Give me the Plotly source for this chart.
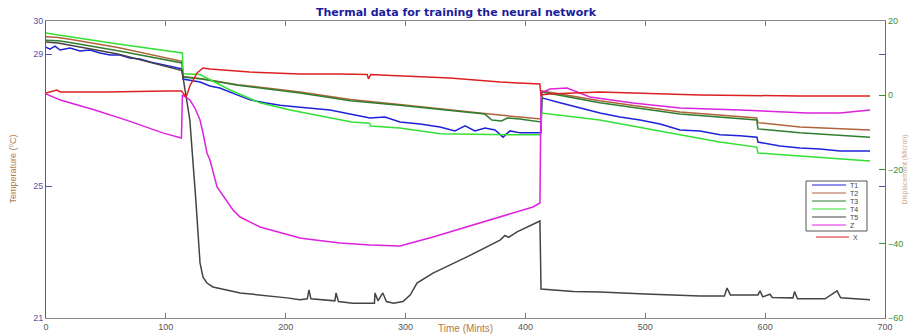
import plotly.graph_objects as go

# ---------------- data ----------------
t1_time = [0, 3.3, 7.5, 11.7, 20, 28.4, 36.7, 45, 53.4, 61.7, 70, 78.4, 86.8, 95.1, 103.5, 111.8, 113.5,
           114.3, 120, 128.5, 136.8, 145, 159.4, 170.2, 182.7, 195.2, 212, 237, 253.6, 270.3, 282.8, 295.3,
           312, 328.7, 341.2, 349.6, 357.9, 366.3, 374.6, 381.3, 387.1, 395.5, 413,
           413.8, 428.8, 445.5, 462.2, 478.9, 495.6, 512.3, 529, 545.6, 562.3, 579, 593.2,
           594, 612.4, 629, 645.8, 662.5, 687.5]
t1_temp = [29.21, 29.15, 29.24, 29.12, 29.18, 29.09, 29.12, 29.03, 28.97, 28.97, 28.88, 28.85, 28.76, 28.70, 28.64, 28.58, 28.55,
           28.24, 28.21, 28.15, 28.03, 27.97, 27.76, 27.61, 27.52, 27.45, 27.39, 27.30, 27.18, 27.06, 27.09, 26.94,
           26.88, 26.79, 26.67, 26.82, 26.67, 26.76, 26.70, 26.48, 26.67, 26.61, 26.61,
           27.67, 27.52, 27.36, 27.21, 27.09, 27.00, 26.88, 26.70, 26.67, 26.55, 26.52, 26.48,
           26.33, 26.21, 26.15, 26.12, 26.06, 26.06]

t2_time = [0, 10, 20, 60, 113.5, 114.3, 130, 160, 212, 254, 295, 337, 370, 395, 413,
           413.8, 462, 529, 593, 594, 629, 687.5]
t2_temp = [29.52, 29.50, 29.45, 29.20, 28.78, 28.32, 28.25, 28.07, 27.85, 27.62, 27.47, 27.30, 27.18, 27.09, 27.03,
           27.88, 27.58, 27.24, 27.06, 26.92, 26.79, 26.70]

t3_time = [0, 10, 20, 60, 113.5, 114.3, 130, 160, 212, 254, 295, 337, 366, 372, 380, 385, 395, 413,
           413.8, 462, 529, 593, 594, 629, 687.5]
t3_temp = [29.42, 29.40, 29.35, 29.10, 28.73, 28.30, 28.24, 28.05, 27.82, 27.58, 27.45, 27.30, 27.18, 27.00, 26.97, 27.06, 27.03, 26.94,
           27.85, 27.52, 27.18, 27.00, 26.73, 26.61, 26.48]

t4_time = [0, 9, 60, 113.8, 114.3, 128.5, 153.5, 178.5, 203.6, 230, 255, 270, 271, 295, 329, 370, 412.5,
           413.5, 440, 462, 529, 562, 593, 594, 629, 687.5]
t4_temp = [29.64, 29.58, 29.30, 29.03, 28.40, 28.38, 27.91, 27.52, 27.30, 27.12, 26.94, 26.90, 26.82, 26.76, 26.58, 26.56, 26.55,
           27.21, 27.09, 27.00, 26.55, 26.33, 26.18, 26.00, 25.91, 25.76]

t5_time = [0, 10, 60, 113.5, 114.3, 120, 125, 128.5, 131, 134.3, 139.3, 142.7, 162, 201, 212, 218, 219.4, 221,
           241, 242, 244, 256, 274, 274.5, 277, 281, 284, 290, 297.9, 304, 309.5, 322.9, 351.2, 378.8, 383, 386, 393, 412.1,
           413, 440, 462, 500, 545.6, 566, 568.2, 571, 594, 595.7, 598, 604, 606, 623.2, 624.5, 627, 650, 660, 663, 687.5]
t5_temp = [29.36, 29.33, 29.00, 28.50, 28.30, 27.00, 24.58, 22.67, 22.24, 22.06, 21.94, 21.91, 21.76, 21.61, 21.55, 21.58, 21.85, 21.58,
           21.52, 21.76, 21.50, 21.45, 21.45, 21.76, 21.52, 21.76, 21.50, 21.45, 21.50, 21.70, 22.06, 22.36, 22.85, 23.36, 23.50, 23.44, 23.61, 23.94,
           21.88, 21.80, 21.79, 21.73, 21.67, 21.67, 21.91, 21.70, 21.70, 21.82, 21.64, 21.72, 21.62, 21.61, 21.80, 21.58, 21.58, 21.82, 21.61, 21.55]

z_time = [0, 12, 40, 67, 98, 113, 113.8, 120.1, 124.3, 128.5, 131, 134.3, 136.8, 142.7, 156, 161.9, 178.5, 184.4,
          212, 217.8, 245.3, 270.3, 295.3, 322.9, 351.2, 378.8, 406.3, 412.1,
          413, 420.5, 434.7, 453.9, 489.7, 529, 579, 634.9, 662.5, 687.5]
z_disp = [0.34, -1.3, -3.9, -6.7, -10.2, -11.5, 0.07, -1.28, -3.43, -6.67, -10.17, -15.56, -17.44, -24.71, -30.91, -32.8, -35.49, -36.03,
          -38.45, -38.72, -39.8, -40.34, -40.61, -38.18, -35.49, -32.8, -30.1, -29.02,
          0.61, 1.68, 1.95, -0.47, -2.09, -3.43, -3.97, -4.78, -4.78, -3.97]

x_time = [0, 9, 12, 50, 100, 113, 115, 117, 120, 126, 131, 136.8, 170, 212, 245, 258, 268, 269, 271, 278.7, 337, 378.8, 412,
          413, 420, 462, 545.6, 629, 687.5]
x_disp = [0.61, 1.41, 0.88, 0.88, 1.14, 1.14, 0.3, -0.47, 2.5, 5.99, 7.34, 7.07, 6.26, 5.72, 5.72, 5.70, 5.60, 4.40, 5.60, 5.45, 4.65, 3.57, 3.03,
          0.07, 0.34, 0.88, 0.07, -0.20, -0.20]

names = ["T1", "T2", "T3", "T4", "T5", "Z", "X"]
colors = ["#1f22d8", "#b0643c", "#2f7f2f", "#33e033", "#444444", "#dd22dd", "#dd2020"]

temp_series = [(t1_time, t1_temp), (t2_time, t2_temp), (t3_time, t3_temp), (t4_time, t4_temp), (t5_time, t5_temp)]
disp_series = [(z_time, z_disp), (x_time, x_disp)]

# ---------------- figure ----------------
W, H = 912, 334
L, R, T, B = 46, 27, 21, 16
PW, PH = W - L - R, H - T - B


def px_x(px):
    return (px - L) / PW


def px_y(py):
    return 1 - (py - T) / PH


fig = go.Figure()
for i, (tx, ty) in enumerate(temp_series):
    fig.add_trace(go.Scatter(x=tx, y=ty, mode="lines", name=names[i],
                             line=dict(color=colors[i], width=1.5), showlegend=False))
for j, (tx, ty) in enumerate(disp_series):
    k = 5 + j
    fig.add_trace(go.Scatter(x=tx, y=ty, mode="lines", name=names[k], yaxis="y2",
                             line=dict(color=colors[k], width=1.5), showlegend=False))

font_family = "Liberation Sans, Arial, sans-serif"
left_col = "#5454a8"
right_col = "#3a8f3a"
brown = "#b07a4e"

fig.update_layout(
    width=W, height=H,
    margin=dict(l=L, r=R, t=T, b=B, autoexpand=False),
    paper_bgcolor="white", plot_bgcolor="white",
    font=dict(family=font_family, size=9, color="#555555"),
    title=dict(text="<b>Thermal data for training the neural network</b>",
               x=0.5, xref="container", xanchor="center",
               y=1 - 12 / H, yref="container", yanchor="middle",
               font=dict(size=11, color="#1c1c9c", family="DejaVu Sans, sans-serif")),
    xaxis=dict(range=[0, 700], tickvals=[0, 100, 200, 300, 400, 500, 600, 700], automargin=False,
               ticks="inside", ticklen=5, tickcolor="#777777", showline=True,
               linecolor="#8a8a8a", linewidth=1, mirror="ticks", showgrid=False, zeroline=False,
               tickfont=dict(size=9, color="#555555")),
    yaxis=dict(range=[21, 30], tickvals=[21, 25, 29, 30], ticks="inside", ticklen=6, automargin=False,
               tickcolor=left_col, showline=True, linecolor=left_col, linewidth=1, mirror="ticks",
               showgrid=False, zeroline=False, tickfont=dict(size=9, color=left_col)),
    yaxis2=dict(range=[-60, 20], tickvals=[-60, -40, -20, 0, 20], overlaying="y", side="right",
                automargin=False,
                ticks="inside", ticklen=6, tickcolor=right_col, showline=True, linecolor=right_col,
                linewidth=1.2, showgrid=False, zeroline=False, tickfont=dict(size=9, color=right_col)),
)

# axis titles
fig.add_annotation(text="Time (Mints)", xref="paper", yref="paper", x=0.5, y=px_y(328),
                   showarrow=False, xanchor="center", yanchor="middle",
                   font=dict(size=10, color=brown, family=font_family))
fig.add_annotation(text="Temperature (<sup>o</sup>C)", xref="paper", yref="paper", x=px_x(12), y=0.5,
                   showarrow=False, textangle=-90, xanchor="center", yanchor="middle",
                   font=dict(size=9, color=brown, family=font_family))
fig.add_annotation(text="Displacement (Micron)", xref="paper", yref="paper", x=px_x(904), y=0.5,
                   showarrow=False, textangle=-90, xanchor="center", yanchor="middle",
                   font=dict(size=7, color="#c8a888", family=font_family))

# legend (drawn compactly, like the reference)
fig.add_shape(type="rect", xref="paper", yref="paper",
              x0=px_x(806), x1=px_x(867), y0=px_y(231), y1=px_y(181),
              line=dict(color="#555555", width=1), fillcolor="white", layer="above")
legend_rows = [185, 193, 201, 209, 217, 225]
for i, py in enumerate(legend_rows):
    fig.add_shape(type="line", xref="paper", yref="paper",
                  x0=px_x(812), x1=px_x(846), y0=px_y(py), y1=px_y(py),
                  line=dict(color=colors[i], width=1.2), layer="above")
    fig.add_annotation(text=names[i], xref="paper", yref="paper", x=px_x(849), y=px_y(py),
                       showarrow=False, xanchor="left", yanchor="middle", borderpad=0,
                       font=dict(size=7, color="#444444", family=font_family))
fig.add_shape(type="line", xref="paper", yref="paper",
              x0=px_x(816), x1=px_x(849), y0=px_y(237), y1=px_y(237),
              line=dict(color=colors[6], width=1.2), layer="above")
fig.add_annotation(text="X", xref="paper", yref="paper", x=px_x(852), y=px_y(237),
                   showarrow=False, xanchor="left", yanchor="middle", borderpad=0,
                   font=dict(size=7, color="#444444", family=font_family))

fig.write_html("out.html", config={"displayModeBar": False},
               post_script="document.body.style.margin='0';document.body.style.overflow='hidden';")
